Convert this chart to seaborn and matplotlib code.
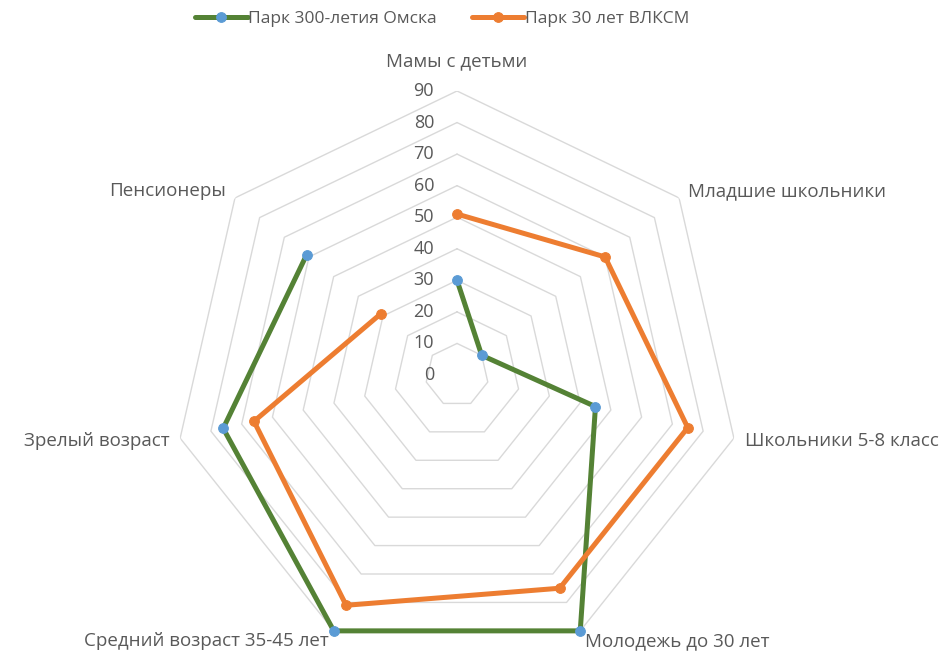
import numpy as np
import pandas as pd
import matplotlib
matplotlib.use("Agg")
import matplotlib.pyplot as plt
import matplotlib.transforms as mtrans
import seaborn as sns

# data
categories = ["Мамы с детьми", "Младшие школьники", "Школьники 5-8 класс",
              "Молодежь до 30 лет", "Средний возраст 35-45 лет",
              "Зрелый возраст", "Пенсионеры"]
park_omsk = [30, 10, 45, 90, 90, 76, 61]
park_vlksm = [51, 60, 75, 75, 81, 66, 31]
series_names = ["Парк 300-летия Омска", "Парк 30 лет ВЛКСМ"]
rings = [0, 10, 20, 30, 40, 50, 60, 70, 80, 90]

sns.set_theme(style="white")
plt.rcParams["font.family"] = ["Open Sans", "DejaVu Sans"]

text_col = "#595959"
grid_col = "#D9D9D9"
green = "#548235"
blue = "#5B9BD5"
orange = "#ED7D31"

n = len(categories)
theta = np.arange(n) * 2 * np.pi / n
theta_closed = np.append(theta, theta[0])

fig = plt.figure(figsize=(9.47, 6.55), dpi=100)
ax = fig.add_axes([0.1827, -0.0061, 0.5998, 0.8672], projection="polar")
ax.set_theta_offset(np.pi / 2)
ax.set_theta_direction(-1)
ax.set_ylim(0, 90)
ax.grid(False)
ax.spines["polar"].set_visible(False)
ax.set_xticks([])
ax.set_yticks([])
ax.patch.set_alpha(0)

# heptagon grid
for v in rings[1:]:
    ax.plot(theta_closed, [v] * (n + 1), color=grid_col, lw=1.0, zorder=1)

# series
df = pd.DataFrame({
    "theta": np.concatenate([theta_closed, theta_closed]),
    "value": park_omsk + park_omsk[:1] + park_vlksm + park_vlksm[:1],
    "park": [series_names[0]] * (n + 1) + [series_names[1]] * (n + 1),
})
styles = [(green, blue), (orange, orange)]
for name, (lc, mc) in zip(series_names, styles):
    sub = df[df["park"] == name]
    sns.lineplot(data=sub, x="theta", y="value", sort=False, ax=ax, color=lc,
                 lw=3.6, marker="o", markersize=7, markerfacecolor=mc,
                 markeredgecolor=mc, label=name, zorder=3, clip_on=False)
ax.set_xlabel("")
ax.set_ylabel("")
handles, labels = ax.get_legend_handles_labels()
if ax.legend_ is not None:
    ax.legend_.remove()

# radial value labels
off = mtrans.offset_copy(ax.transData, fig=fig, x=-23, y=0, units="dots")
for v in rings:
    ax.text(0, v, str(v), transform=off, ha="right", va="center",
            fontsize=13, color=text_col)

# category labels
for i, (t, lab) in enumerate(zip(theta, categories)):
    if i == 0:
        ax.text(t, 99.5, lab, ha="center", va="center", fontsize=13.5,
                color=text_col, clip_on=False)
    else:
        ha = "left" if np.sin(t) > 0 else "right"
        ax.text(t, 93.5, lab, ha=ha, va="center", fontsize=13.5,
                color=text_col, clip_on=False)

fig.legend(handles, labels, loc="center", bbox_to_anchor=(0.467, 0.971),
           ncol=2, frameon=False, fontsize=12.5, handlelength=3.0,
           handletextpad=0.05, columnspacing=2.0, labelcolor=text_col)

fig.savefig("out.png", dpi=100)
